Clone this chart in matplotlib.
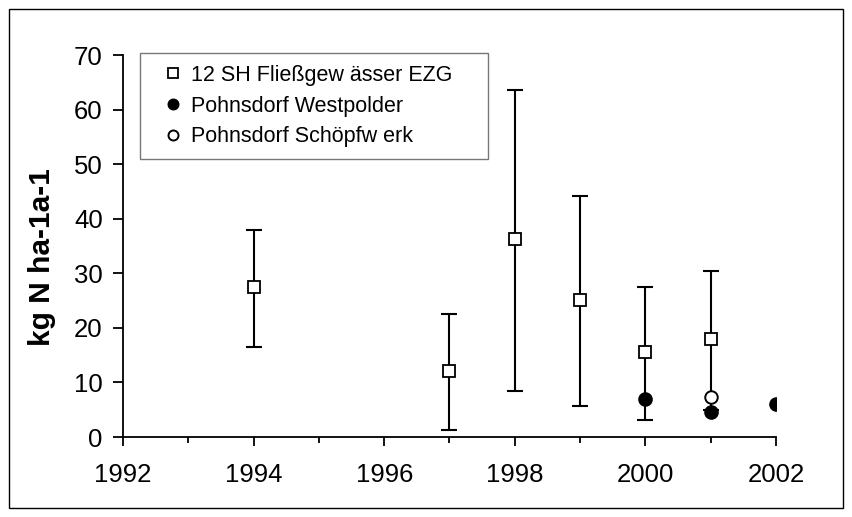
import matplotlib.pyplot as plt
from matplotlib.patches import Rectangle

plt.rcParams['font.family'] = ['Liberation Sans', 'DejaVu Sans']

# 12 SH catchments: mean with min/max range
years_sh = [1994, 1997, 1998, 1999, 2000, 2001]
mean_sh = [27.5, 12.1, 36.2, 25.1, 15.5, 18.0]
low_sh = [16.5, 1.3, 8.4, 5.6, 3.2, 5.0]
high_sh = [38.0, 22.5, 63.6, 44.2, 27.5, 30.5]

years_west = [2000, 2001, 2002]
vals_west = [7.0, 4.5, 6.0]

years_schoepf = [2001]
vals_schoepf = [7.3]

fig = plt.figure(figsize=(8.53, 5.17), dpi=100)
ax = fig.add_axes([0.1442, 0.1547, 0.7655, 0.7389])

yerr = [[m - l for m, l in zip(mean_sh, low_sh)],
        [h - m for m, h in zip(mean_sh, high_sh)]]
ax.errorbar(years_sh, mean_sh, yerr=yerr, fmt='none', ecolor='black',
            elinewidth=1.5, capsize=6, capthick=1.5, zorder=2)
ax.plot(years_sh, mean_sh, 's', ms=8.5, mfc='white', mec='black', mew=1.3,
        zorder=3, label='12 SH Fließgew ässer EZG')
ax.plot(years_west, vals_west, 'o', ms=9.5, mfc='black', mec='black',
        zorder=4, label='Pohnsdorf Westpolder')
ax.plot(years_schoepf, vals_schoepf, 'o', ms=9, mfc='white', mec='black',
        mew=1.4, zorder=4, label='Pohnsdorf Schöpfw erk')

ax.set_xlim(1992, 2002)
ax.set_ylim(0, 70)
ax.set_xticks(range(1992, 2003, 2))
ax.set_xticks(range(1993, 2002, 2), minor=True)
ax.set_yticks(range(0, 71, 10))
ax.spines['top'].set_visible(False)
ax.spines['right'].set_visible(False)
for s in ['left', 'bottom']:
    ax.spines[s].set_linewidth(1.3)
ax.tick_params(axis='x', which='major', direction='out', length=6.5, width=1.3,
               labelsize=18.5, pad=12)
ax.tick_params(axis='x', which='minor', direction='out', length=4.5, width=1.3)
ax.tick_params(axis='y', direction='out', length=7.5, width=1.3,
               labelsize=18.5, pad=7)
ax.set_ylabel('kg N ha-1a-1', fontsize=21.5, fontweight='bold')
ax.yaxis.set_label_coords(-0.102, 0.47)

leg = ax.legend(loc='upper left', bbox_to_anchor=(0.026, 0.0, 0.533, 1.005),
                mode='expand', fontsize=15.5, frameon=True, fancybox=False,
                edgecolor='#555555', handletextpad=-0.2, borderpad=0.55,
                labelspacing=0.45, handlelength=2.0, markerscale=0.8,
                borderaxespad=0)
leg.get_frame().set_linewidth(1.0)

# thin frame around the whole figure
fig.patches.append(Rectangle((0.011, 0.017), 0.977, 0.966, transform=fig.transFigure,
                             fill=False, edgecolor='black', linewidth=1.0))

fig.savefig('out.png', dpi=100)
